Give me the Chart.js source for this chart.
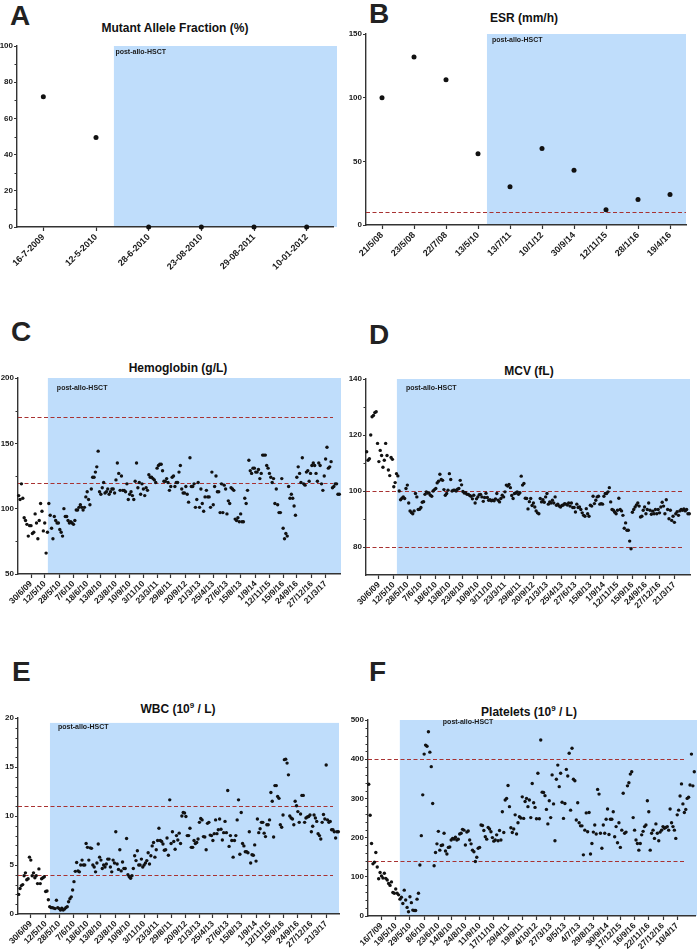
<!DOCTYPE html>
<html><head><meta charset="utf-8">
<script src="https://cdn.jsdelivr.net/npm/chart.js@4/dist/chart.umd.min.js"></script>
<style>
body{margin:0;width:698px;height:949px;background:#fff;position:relative;overflow:hidden;font-family:"Liberation Sans",Arial,sans-serif;}
.cv{position:absolute;}
.cv canvas{display:block;}
.letter{position:absolute;font-weight:bold;font-size:28px;line-height:1;color:#222;}
.title{position:absolute;font-weight:bold;font-size:12px;line-height:1;color:#111;transform:translate(-50%,-50%);white-space:nowrap;}
.title sup{font-size:8px;line-height:0;vertical-align:5px;}
</style></head><body>
<div class="letter" style="left:10px;top:2px">A</div>
<div class="letter" style="left:369px;top:0px">B</div>
<div class="letter" style="left:11px;top:318px">C</div>
<div class="letter" style="left:369px;top:321px">D</div>
<div class="letter" style="left:12px;top:658px">E</div>
<div class="letter" style="left:369px;top:658px">F</div>
<div class="title" style="left:175px;top:28px">Mutant Allele Fraction (%)</div>
<div class="title" style="left:524px;top:18px">ESR (mm/h)</div>
<div class="title" style="left:178px;top:368px">Hemoglobin (g/L)</div>
<div class="title" style="left:529px;top:371px">MCV (fL)</div>
<div class="title" style="left:178px;top:709px">WBC (10<sup>9</sup> / L)</div>
<div class="title" style="left:529px;top:712px">Platelets (10<sup>9</sup> / L)</div>
<script>
// ---------- DATA ----------
const mafLabels = ['16-7-2009','12-5-2010','28-6-2010','23-08-2010','29-08-2011','10-01-2012'];
const mafValues = [72,49.5,0,0,0,0];

const esrLabels = ['21/5/08','23/5/08','22/7/08','13/5/10','13/7/11','10/1/12','30/9/14','12/11/15','28/1/16','19/4/16'];
const esrValues = [100,132,114,56,30,60,43,12,20,24];
const esrRefs = [10];

const cbcTickLabels = ['30/6/09','12/5/10','28/5/10','7/6/10','18/6/10','13/8/10','23/8/10','10/9/10','3/11/10','23/3/11','29/8/11','20/9/12','21/3/13','25/4/13','27/6/13','15/8/13','1/9/14','12/11/15','15/9/16','24/9/16','27/12/16','21/3/17'];
const pltTickLabels = ['16/7/09','19/5/10','29/5/10','8/6/10','23/6/10','14/8/10','24/8/10','11/9/10','17/11/10','29/4/11','19/9/11','4/10/12','27/3/13','9/5/13','4/7/13','29/8/13','30/9/14','17/12/15','16/9/16','22/11/16','27/12/16','10/4/17'];

const hbValues = [110,107,119,108,93,91,88,79,87,87,81,82,96,89,77,91,104,98,83,89,66,82,
104,95,85,77,94,91,89,89,84,82,
79,100,94,94,91,89,90,89,88,91,
99,99,101,103,101,99,101,109,113,107,
103,115,124,124,128,132,144,113,111,116,
120,112,113,115,111,113,115,115,112,122,
135,127,114,125,114,114,113,119,107,111,
113,110,107,121,135,116,120,111,119,115,
110,116,114,126,124,124,123,122,120,131,
133,134,134,129,121,121,123,120,114,117,
124,125,117,120,120,128,133,115,112,112,
117,111,105,139,117,117,119,101,107,120,
101,115,104,98,109,114,109,109,101,128,
103,117,125,113,113,97,119,97,118,115,
96,106,104,116,115,114,92,91,93,90,
96,90,90,108,104,114,137,129,127,131,
131,128,128,130,123,127,141,141,141,133,
131,127,124,120,123,104,115,103,97,97,
123,85,77,81,79,117,108,111,108,102,
95,124,132,127,120,139,119,118,128,129,
121,127,133,135,133,127,121,135,133,119,
114,125,138,147,131,132,136,116,117,119,
119,111,111];
const hbRefs = [170,120];

const mcvValues = [114,111,111.5,120,126.5,127,128,128.3,117,110.5,114.5,112.7,108.5,111,117,112.7,107.5,105.5,112,111.3,101.5,103,
106.2,105.4,100,96.9,97.4,97.9,97.3,100.9,102.1,95.7,
92.9,92.3,91.9,92.9,99.1,97.9,93.4,93.5,94.1,96,
96.2,98.8,99.7,99.3,99.3,98.5,98.1,100,100.5,100.9,
102.9,103.5,106,104.1,103.8,100.5,98.5,99.1,100.3,106.2,
104.1,100,100.3,100.3,100,100.6,100.9,103.8,102.2,99.8,
99.3,99.4,98.8,98.8,98.4,98.1,97.2,98.5,95.7,97.2,
97.9,98.7,98.8,97.9,96.3,97.7,99.2,97.7,96.7,96.9,
96.5,96.7,96.5,97.2,99.1,96.7,96.1,97.3,98.5,97.9,
99.7,102.1,101.8,102.3,101.2,98.4,97.3,99.1,99.3,99.7,
98.8,99.4,105.3,102.1,102.7,97.4,97.3,93.6,96.2,97.3,
94.8,95.7,94.3,92.9,92.2,91.9,97.3,96.1,96.9,96,
97.9,99.1,95.3,96.1,95.7,96.7,95.7,97.9,94.9,95.3,
94.6,94.3,94.8,95,95.5,95.3,95,95.7,94.6,95.7,
94.1,94.1,92.5,95.3,94.1,94.3,93.4,92.2,91.3,91,
93.7,91.9,91,94.9,94.6,98.1,95.5,96.7,97.9,98.1,
95.3,95.5,95.3,98.1,99.1,99.1,99.7,101.2,96.1,93.4,
93.1,92.4,91.9,93.1,97.4,93.4,92.9,91.3,86.7,88.6,
86,86,82.1,79.4,92.4,93.4,94.3,95,95.7,94.6,
90.7,91,93.1,94.3,91.9,93.4,95.7,93.1,91.7,92.8,
91.9,93.4,91.9,93.4,92.2,94.3,96,94.6,91.9,96.9,
93.4,90.1,93.1,89.5,91,88.8,91.9,92.6,91.3,92.9,
93.4,93.1,93.6,92.9,93.4,91.9,91.9];
const mcvRefs = [100,80];

const wbcValues = [2.0,2.6,2.9,3.0,3.9,4.2,3.5,3.6,5.8,5.5,3.9,4.2,3.7,3.9,3.1,4.6,3.1,3.6,3.7,3.8,2.3,2.35,1.45,
0.75,0.65,0.65,0.6,0.55,1.4,0.65,0.55,0.4,0.6,
0.4,0.5,0.65,0.75,1.25,1.55,1.75,2.45,3.3,4.35,
5.25,4.4,4.3,5.0,5.5,5.0,5.0,7.2,6.8,5.5,
6.75,6.7,5.0,4.8,4.3,5.2,7.15,5.8,5.5,4.65,
5.0,4.8,5.1,5.6,5.6,4.8,4.3,5.5,5.2,8.4,
5.1,4.55,6.55,4.4,5.3,4.65,4.65,7.7,4.0,3.8,
3.65,3.9,4.65,5.95,5.45,6.45,5.0,5.0,5.6,4.8,
5.0,5.2,5.45,6.25,5.1,5.95,6.95,7.3,5.8,6.55,
7.5,8.75,7.5,7.4,7.15,6.5,6.55,7.75,6.0,11.65,
7.2,8.4,7.4,6.6,8.0,7.55,8.25,7.2,10.0,10.35,
10.3,9.95,8.0,8.0,8.75,6.8,6.8,7.5,7.2,7.3,
7.65,9.35,9.75,9.6,7.9,7.85,6.55,9.25,9.35,8.05,
8.0,7.5,8.2,9.6,8.2,8.6,9.7,8.65,7.55,8.3,
9.45,8.3,12.6,6.9,8.0,7.5,5.8,7.5,8.0,9.6,
11.65,6.1,10.35,7.2,6.95,6.35,6.35,6.25,8.4,5.2,
6.05,6.0,7.05,5.4,9.7,8.3,8.7,9.35,9.35,8.25,
7.9,9.1,9.1,9.6,12.4,11.5,7.85,13.1,13.1,12.0,
11.8,9.1,8.85,10.1,15.75,15.8,15.4,14.2,10.0,9.8,
9.7,9.1,11.5,11.05,10.45,9.35,10.2,12.1,12.1,9.35,
9.8,9.9,9.95,10.1,8.4,8.95,10.1,9.8,9.45,8.2,
8.0,7.65,9.35,10.15,9.7,15.2,9.6,9.35,9.45,8.6,
8.6,8.4,7.75,8.4,8.4];
const wbcRefs = [11,4];

const pltValues = [336,257,185,133,137,162,125,95,111,102,97,109,96,92,83,78,87,60,58,69,58,54,
43,48,32,66,41,22,11,49,34,15,
14,14,43,58,130,205,309,413,436,433,
470,418,381,287,128,162,184,216,168,180,
181,211,166,158,175,176,194,198,196,201,
194,196,209,211,221,219,181,214,217,194,
184,168,164,139,150,173,175,232,231,218,
202,196,226,222,215,200,191,194,207,192,
218,194,266,213,296,300,333,279,225,213,
222,258,209,238,253,250,304,249,292,300,
279,296,251,338,289,277,248,364,248,449,
316,315,307,272,235,294,251,360,286,192,
349,385,330,364,290,249,287,374,357,415,
270,428,349,345,245,289,238,230,230,156,
219,263,215,264,158,185,214,232,209,323,
311,211,173,232,211,247,273,208,247,247,
266,202,228,187,238,175,219,313,211,214,
332,340,362,368,251,219,194,185,168,185,
207,216,228,232,294,266,168,211,219,198,
235,211,192,214,219,228,224,226,228,219,
273,238,228,219,198,258,270,306,337,286,
264,272,300,303,334,413,332,368];
const pltRefs = [400,140];

// ---------- HELPERS ----------
const FONT = '"Liberation Sans", Arial, sans-serif';
function sparse(n, tickLabels, N0){
  const labels = new Array(n).fill('');
  const idx = new Set();
  tickLabels.forEach((t,k)=>{
    const i = Math.min(n-1, Math.max(0, Math.round((9.5+10*k)*n/N0 - 0.5)));
    labels[i] = t; idx.add(i);
  });
  return {labels, idx};
}
function range(a,b,s){const r=[];for(let v=a;v<=b+1e-9;v+=s)r.push(+v.toFixed(6));return r;}

function panelPlugin(p){
  return {
    id:'panel'+p.id,
    beforeDraw(chart){
      const {ctx, chartArea:a, scales:{x,y}} = chart;
      const x0 = x.getPixelForValue(p.shadeStart);
      const yt = y.getPixelForValue(p.shadeTop);
      ctx.save();
      ctx.fillStyle = '#bfddfb';
      ctx.fillRect(x0, yt, a.right + p.shadeExtra - x0, a.bottom - yt);
      ctx.restore();
    },
    beforeDatasetsDraw(chart){
      const {ctx, chartArea:a, scales:{x,y}} = chart;
      ctx.save();
      ctx.strokeStyle = '#a83232';
      ctx.lineWidth = 1.2;
      ctx.setLineDash([4,2.5]);
      (p.refs||[]).forEach(v=>{
        const yy = Math.round(y.getPixelForValue(v))+0.5;
        ctx.beginPath(); ctx.moveTo(a.left, yy); ctx.lineTo(a.right - p.refInset, yy); ctx.stroke();
      });
      ctx.setLineDash([]);
      const x0 = x.getPixelForValue(p.shadeStart);
      const yt = y.getPixelForValue(p.shadeTop);
      ctx.fillStyle = '#1a1a1a';
      ctx.font = 'bold 7px ' + FONT;
      ctx.textBaseline = 'top';
      ctx.textAlign = 'left';
      ctx.fillText('post-allo-HSCT', x0 + p.textDx, yt + p.textDy);
      ctx.restore();
    },
    afterDraw(chart){
      const {ctx, chartArea:a, scales:{y}} = chart;
      ctx.save();
      ctx.strokeStyle = '#333';
      ctx.lineWidth = 1;
      (p.minor||[]).forEach(v=>{
        const yy = Math.round(y.getPixelForValue(v))+0.5;
        ctx.beginPath(); ctx.moveTo(a.left-2.5, yy); ctx.lineTo(a.left, yy); ctx.stroke();
      });
      ctx.restore();
    }
  };
}

function makeChart(p){
  const [bl,bt,bw,bh] = p.box;
  const wrap = document.createElement('div');
  wrap.className='cv';
  wrap.style.left=bl+'px'; wrap.style.top=bt+'px'; wrap.style.width=bw+'px'; wrap.style.height=bh+'px';
  const cv = document.createElement('canvas');
  cv.width=bw; cv.height=bh; cv.style.width=bw+'px'; cv.style.height=bh+'px';
  wrap.appendChild(cv); document.body.appendChild(wrap);
  const relL = p.plot.l-bl, relR = p.plot.r-bl, relT = p.plot.t-bt, relB = p.plot.b-bt;
  new Chart(cv, {
    type:'line',
    data:{labels:p.labels, datasets:[{data:p.values, showLine:false, pointRadius:p.r, pointHoverRadius:p.r,
      pointBackgroundColor:'#111', pointBorderColor:'#111', pointBorderWidth:0, clip:false}]},
    options:{
      responsive:false, animation:false, events:[], devicePixelRatio:1,
      layout:{padding:{left:0, top:relT, right:bw-relR, bottom:0}},
      plugins:{legend:{display:false}, tooltip:{enabled:false}},
      scales:{
        x:{type:'category', offset:true,
          grid:{drawOnChartArea:false, offset:false, tickLength:4, tickColor:'#333', tickWidth:1.2},
          border:{color:'#333', width:1.4},
          ticks:{autoSkip:false, minRotation:45, maxRotation:45, padding:1, color:'#1a1a1a',
            font:{family:FONT, size:p.xfs, weight:'bold'}},
          afterBuildTicks:s=>{ if(p.tickIdx) s.ticks = s.ticks.filter(t=>p.tickIdx.has(t.value)); },
          afterFit:s=>{ s.height = bh - relB; }
        },
        y:{type:'linear', min:p.ymin, max:p.ymax,
          grid:{drawOnChartArea:false, tickLength:3, tickColor:'#333', tickWidth:1.2},
          border:{color:'#333', width:1.4},
          ticks:{padding:1, color:'#1a1a1a', font:{family:FONT, size:8, weight:'bold'}},
          afterBuildTicks:s=>{ s.ticks = p.major.map(v=>({value:v})); },
          afterFit:s=>{ s.width = relL; }
        }
      }
    },
    plugins:[panelPlugin(p)]
  });
}

// ---------- PANELS ----------
const hbX = sparse(hbValues.length, cbcTickLabels, 230);
const mcvX = sparse(mcvValues.length, cbcTickLabels, 231);
const wbcX = sparse(wbcValues.length, cbcTickLabels, 229);
const pltX = sparse(pltValues.length, pltTickLabels, 232);

makeChart({id:'A', box:[0,0,349,300], plot:{l:17,r:333,t:46,b:227}, labels:mafLabels, values:mafValues, r:2.5, xfs:9,
  ymin:0, ymax:100, major:range(0,100,20), minor:range(10,90,20), shadeStart:1.34, shadeTop:100, shadeExtra:4,
  refs:[], refInset:0, textDx:1.5, textDy:2.5});
makeChart({id:'B', box:[349,0,349,300], plot:{l:366,r:686,t:34,b:225}, labels:esrLabels, values:esrValues, r:2.5, xfs:9,
  ymin:0, ymax:150, major:range(0,150,50), minor:[], shadeStart:3.28, shadeTop:150, shadeExtra:0,
  refs:esrRefs, refInset:0, textDx:5, textDy:2.5});
makeChart({id:'C', box:[0,300,349,330], plot:{l:18,r:340,t:378,b:574}, labels:hbX.labels, tickIdx:hbX.idx, values:hbValues, r:1.7, xfs:8.5,
  ymin:50, ymax:200, major:range(50,200,50), minor:[75,125,175], shadeStart:21.3, shadeTop:200, shadeExtra:1,
  refs:hbRefs, refInset:7, textDx:9, textDy:6.5});
makeChart({id:'D', box:[349,300,349,330], plot:{l:366,r:690,t:379,b:575}, labels:mcvX.labels, tickIdx:mcvX.idx, values:mcvValues, r:1.7, xfs:8.5,
  ymin:70, ymax:140, major:[80,100,120,140], minor:[90,110,130], shadeStart:22.3, shadeTop:140, shadeExtra:0,
  refs:mcvRefs, refInset:8, textDx:9, textDy:6});
makeChart({id:'E', box:[0,630,349,319], plot:{l:18,r:339,t:718,b:914}, labels:wbcX.labels, tickIdx:wbcX.idx, values:wbcValues, r:1.7, xfs:8.5,
  ymin:0, ymax:20, major:range(0,20,5), minor:range(1,19,1).filter(v=>v%5!==0), shadeStart:23.2, shadeTop:19.5, shadeExtra:0,
  refs:wbcRefs, refInset:6, textDx:8, textDy:1});
makeChart({id:'F', box:[349,630,349,319], plot:{l:368,r:695,t:720,b:916}, labels:pltX.labels, tickIdx:pltX.idx, values:pltValues, r:1.7, xfs:8.5,
  ymin:0, ymax:500, major:range(0,500,100), minor:range(20,480,20).filter(v=>v%100!==0), shadeStart:21.9, shadeTop:500, shadeExtra:2,
  refs:pltRefs, refInset:11, textDx:43, textDy:-1});
</script>
</body></html>
